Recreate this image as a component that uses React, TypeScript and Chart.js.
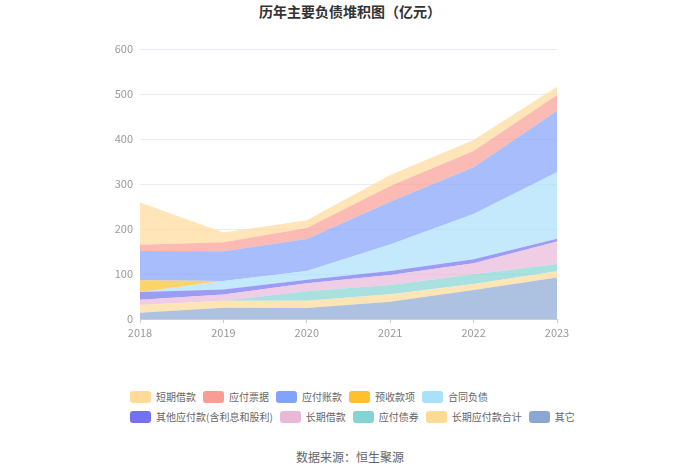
import { useEffect, useRef } from 'react';
import { Chart, registerables } from 'chart.js';
Chart.register(...registerables);

const YEARS = ['2018', '2019', '2020', '2021', '2022', '2023'];

// bottom of the stack first
const OTHER = [14, 25, 24.5, 38.5, 64.5, 92];
const LT_PAYABLE = [17, 15.5, 16, 16.3, 13.4, 14];
const BONDS = [0, 0, 21, 20.7, 21.4, 16];
const LT_LOAN = [12, 14, 18, 22.3, 24.5, 50];
const OTHER_PAYABLE = [17, 11, 8, 9, 9, 6.5];
const CONTRACT = [0, 19, 19, 59, 100.7, 147.5];
const ADVANCE = [26, 0, 0, 0, 0, 0];
const ACCOUNTS = [65, 66, 71.5, 94.7, 103.7, 137];
const NOTES = [14, 20, 24.5, 35, 36, 35];
const ST_LOAN = [94, 21.5, 17, 24.4, 24.8, 18];

const SERIES = [
  { name: '其它', data: OTHER, color: '#8AA6D3' },
  { name: '长期应付款合计', data: LT_PAYABLE, color: '#FFD996' },
  { name: '应付债券', data: BONDS, color: '#84D4D4' },
  { name: '长期借款', data: LT_LOAN, color: '#E8B8D8' },
  { name: '其他应付款(含利息和股利)', data: OTHER_PAYABLE, color: '#7272F1' },
  { name: '合同负债', data: CONTRACT, color: '#ABE0FB' },
  { name: '预收款项', data: ADVANCE, color: '#FFC02E' },
  { name: '应付账款', data: ACCOUNTS, color: '#83A2FB' },
  { name: '应付票据', data: NOTES, color: '#F99C94' },
  { name: '短期借款', data: ST_LOAN, color: '#FFDA98' },
];

const FONT = '"Noto Sans CJK SC", "Noto Sans", sans-serif';

const alpha = (hex: string, a: number) => {
  const n = parseInt(hex.slice(1), 16);
  return `rgba(${n >> 16},${(n >> 8) & 255},${n & 255},${a})`;
};

export default function App() {
  const canvasRef = useRef<HTMLCanvasElement>(null);

  useEffect(() => {
    if (!canvasRef.current) return;
    const chart = new Chart(canvasRef.current, {
      type: 'line',
      data: {
        labels: YEARS,
        datasets: SERIES.map((s, i) => ({
          label: s.name,
          data: s.data,
          backgroundColor: alpha(s.color, 0.7),
          borderColor: alpha(s.color, 0.7),
          borderWidth: 0,
          pointRadius: 0,
          fill: i === 0 ? 'origin' : '-1',
          tension: 0,
        })),
      },
      options: {
        animation: false,
        responsive: true,
        maintainAspectRatio: false,
        layout: { padding: { top: 49, right: 143, left: 0, bottom: 0 } },
        plugins: { legend: { display: false }, tooltip: { enabled: false } },
        scales: {
          x: {
            offset: false,
            grid: { drawOnChartArea: false, drawTicks: true, tickLength: 4, color: '#ccc' },
            border: { color: '#ccc' },
            ticks: { color: '#999', font: { size: 11, family: FONT }, padding: 3, maxRotation: 0 },
            afterFit: (s: any) => { s.height = 26; },
          },
          y: {
            stacked: true,
            min: 0,
            max: 600,
            ticks: { stepSize: 100, color: '#999', font: { size: 11, family: FONT }, padding: 7 },
            grid: { color: '#E9ECF2', drawTicks: false },
            border: { display: false },
            afterFit: (s: any) => { s.width = 140; },
          },
        },
      },
    });
    return () => chart.destroy();
  }, []);

  const legend = [...SERIES].reverse();
  const rows = [legend.slice(0, 5), legend.slice(5)];

  return (
    <div style={{ position: 'absolute', left: 0, top: 0, width: 700, height: 474, fontFamily: FONT, background: '#fff' }}>
      <div style={{ position: 'absolute', top: 3, width: 700, textAlign: 'center', fontSize: 14, fontWeight: 'bold', color: '#333', lineHeight: '16px' }}>
        历年主要负债堆积图（亿元）
      </div>
      <div style={{ position: 'absolute', left: 0, top: 0, width: 700, height: 345 }}>
        <canvas ref={canvasRef} />
      </div>
      <div style={{ position: 'absolute', left: 130, top: 387 }}>
        {rows.map((row, r) => (
          <div key={r} style={{ display: 'flex', alignItems: 'center', height: 20 }}>
            {row.map(s => (
              <div key={s.name} style={{ display: 'flex', alignItems: 'center', marginRight: 7 }}>
                <span style={{ display: 'inline-block', width: 21, height: 12, borderRadius: 3, background: s.color, marginRight: 5 }} />
                <span style={{ fontSize: 10, color: '#666', whiteSpace: 'nowrap', lineHeight: '14px' }}>{s.name}</span>
              </div>
            ))}
          </div>
        ))}
      </div>
      <div style={{ position: 'absolute', top: 449, width: 700, textAlign: 'center', fontSize: 12, color: '#666', lineHeight: '16px' }}>
        数据来源：恒生聚源
      </div>
    </div>
  );
}
